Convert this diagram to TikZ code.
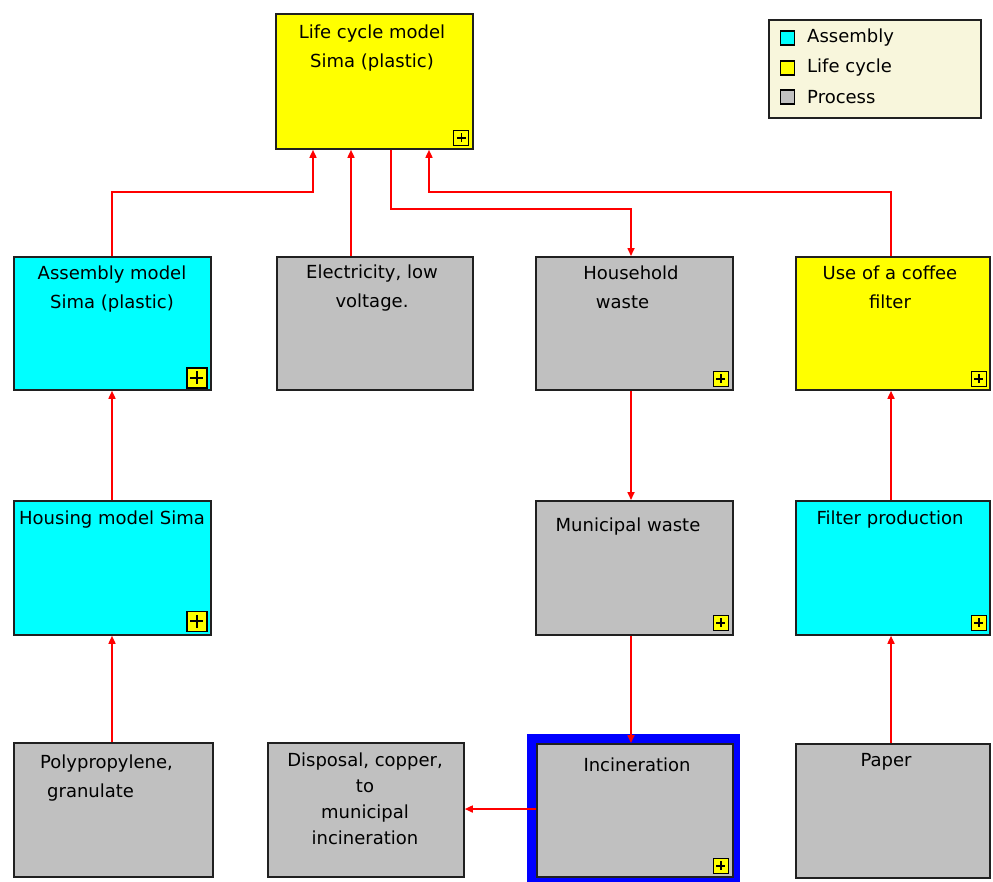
\documentclass[tikz,border=0pt]{standalone}
\usepackage{fontspec}
\setmainfont{DejaVu Sans}
\usetikzlibrary{arrows.meta}
\definecolor{cy}{HTML}{00FFFF}
\definecolor{ye}{HTML}{FFFF00}
\definecolor{gr}{HTML}{C0C0C0}
\definecolor{lg}{HTML}{F8F6DC}
\definecolor{bd}{HTML}{202020}
\definecolor{rd}{HTML}{FF0000}
\definecolor{bl}{HTML}{0000FF}
\begin{document}
\begin{tikzpicture}[x=1pt,y=-1pt,
  box/.style={draw=bd, line width=1.8pt, anchor=north west, inner sep=0, minimum width=197, minimum height=133},
  txt/.style={inner sep=0, font=\fontsize{18}{29}\selectfont, align=center, anchor=north},
  link/.style={draw=rd, line width=1.6pt, -{Triangle[length=8pt,width=7pt]}},
  smallplus/.pic={\draw[fill=ye, draw=black, line width=1.3pt] (-7.5,-7.5) rectangle (7.5,7.5);
                  \draw[line width=1.6pt] (-4.5,0)--(4.5,0) (0,-4.5)--(0,4.5);},
  bigplus/.pic={\draw[fill=ye, draw=black, line width=1.4pt] (-10,-10) rectangle (10,10);
                \draw[line width=2pt] (-6.5,0)--(6.5,0) (0,-6.5)--(0,6.5);}
]
\useasboundingbox (0,0) rectangle (993,881);
\fill[white] (0,0) rectangle (993,881);

% legend
\node[draw=bd, fill=lg, line width=1.5pt, anchor=north west, inner sep=0, minimum width=212, minimum height=98] (leg) at (768,19) {};
\node[draw=black, fill=cy, line width=1.2pt, inner sep=0, minimum size=14] (lsq1) at (787.5,38) {};
\node[draw=black, fill=ye, line width=1.2pt, inner sep=0, minimum size=14] (lsq2) at (787.5,68) {};
\node[draw=black, fill=gr, line width=1.2pt, inner sep=0, minimum size=14] (lsq3) at (787.5,97) {};
\node[txt, anchor=west] (lt1) at (807,38) {Assembly};
\node[txt, anchor=west] (lt2) at (807,68) {Life cycle};
\node[txt, anchor=west] (lt3) at (807,97) {Process};

% boxes
\node[box, fill=ye, minimum width=197, minimum height=135] (lc) at (275,13) {};
\node[box, fill=cy] (asm) at (13,256) {};
\node[box, fill=gr, minimum width=196] (elec) at (276,256) {};
\node[box, fill=gr] (hh) at (535,256) {};
\node[box, fill=ye, minimum width=194] (use) at (795,256) {};
\node[box, fill=cy, minimum height=134] (hous) at (13,500) {};
\node[box, fill=gr, minimum height=134] (mun) at (535,500) {};
\node[box, fill=cy, minimum width=194, minimum height=134] (filt) at (795,500) {};
\node[box, fill=gr, minimum width=199, minimum height=134] (pp) at (13,742) {};
\node[box, fill=gr, minimum width=196, minimum height=134] (disp) at (267,742) {};
\node[fill=bl, anchor=north west, inner sep=0, minimum width=213, minimum height=152] (incsel) at (527,734) {};
\node[box, fill=gr, minimum width=196, minimum height=133] (inc) at (536,743) {};
\node[box, fill=gr, minimum width=194, minimum height=134] (paper) at (795,743) {};

% plus icons
\pic at ([shift={(-12.5,-12)}]lc.south east) {smallplus};
\pic at ([shift={(-15,-13)}]asm.south east) {bigplus};
\pic at ([shift={(-15,-14.5)}]hous.south east) {bigplus};
\pic at ([shift={(-13,-12)}]hh.south east) {smallplus};
\pic at ([shift={(-12,-12)}]use.south east) {smallplus};
\pic at ([shift={(-13,-13)}]mun.south east) {smallplus};
\pic at ([shift={(-12,-13)}]filt.south east) {smallplus};
\pic at ([shift={(-13,-12)}]inc.south east) {smallplus};

% texts
\node[txt] (tlc) at (372,24.5) {Life cycle model\\Sima (plastic)};
\node[txt] (tasm) at (112,265.5) {Assembly model\\Sima (plastic)};
\node[txt] (telec) at (372,264.5) {Electricity, low\\voltage.};
\node[txt] (thh) at (631,265.5) {Household\\waste\hspace*{17pt}};
\node[txt] (tuse) at (890,265.5) {Use of a coffee\\filter};
\node[txt] (thous) at (112,510.5) {Housing model Sima};
\node[txt] (tmun) at (628,517.5) {Municipal waste};
\node[txt] (tfilt) at (890,510.5) {Filter production};
\node[txt, align=left, anchor=north west] (tpp) at (40,754.5) {Polypropylene,\\\hspace*{7pt}granulate};
\node[txt, font=\fontsize{18}{26}\selectfont] (tdisp) at (365,752.5) {Disposal, copper,\\to\\municipal\\incineration};
\node[txt] (tinc) at (637,757.5) {Incineration};
\node[txt] (tpaper) at (886,753.5) {Paper};

% connector coordinates
\coordinate (a0) at (112,0);
\coordinate (a1) at (313,192);
\coordinate (e1) at (351,0);
\coordinate (d1) at (391,209);
\coordinate (d2) at (631,209);
\coordinate (u1) at (891,192);
\coordinate (u2) at (429,192);
\coordinate (i1) at (0,809);

% connectors
\draw[link] (asm.north -| a0) |- (a1) -- (a1 |- lc.south);
\draw[link] (elec.north -| e1) -- (lc.south -| e1);
\draw[link] (lc.south -| d1) -- (d1) -- (d2) -- (d2 |- hh.north);
\draw[link] (use.north -| u1) -- (u1) -- (u2) -- (u2 |- lc.south);
\draw[link] (hous.north -| a0) -- (asm.south -| a0);
\draw[link] (pp.north -| a0) -- (hous.south -| a0);
\draw[link] (hh.south -| d2) -- (mun.north -| d2);
\draw[link] (mun.south -| d2) -- (inc.north -| d2);
\draw[link] (filt.north -| u1) -- (use.south -| u1);
\draw[link] (paper.north -| u1) -- (filt.south -| u1);
\draw[link] (inc.west |- i1) -- (disp.east |- i1);
\end{tikzpicture}
\end{document}
